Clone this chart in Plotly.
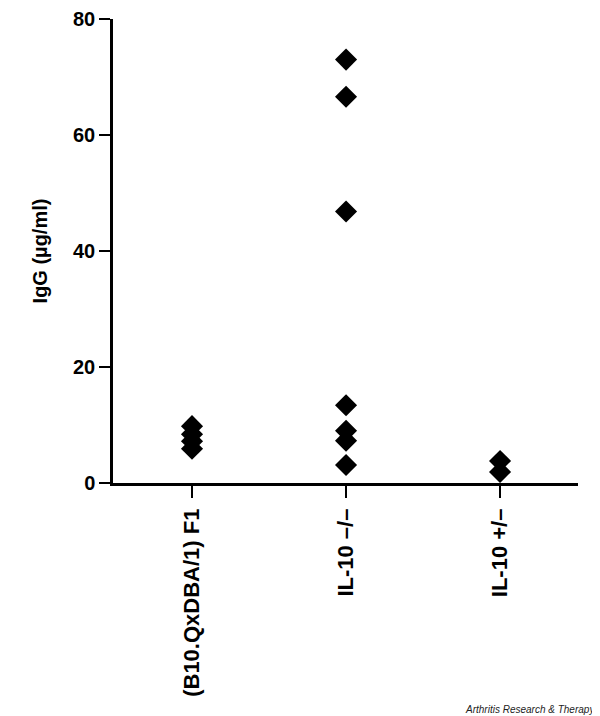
import plotly.graph_objects as go

categories = ["(B10.QxDBA/1) F1", "IL-10 \u2013/\u2013", "IL-10 +/\u2013"]
group_f1 = [9.8, 8.4, 7.2, 5.9]
group_ko = [73.0, 66.6, 46.8, 13.4, 9.0, 7.3, 3.1]
group_het = [3.8, 1.9]
y_ticks = [0, 20, 40, 60, 80]

groups = [group_f1, group_ko, group_het]

fig = go.Figure()
for i, vals in enumerate(groups):
    fig.add_trace(go.Scatter(
        x=[i] * len(vals), y=vals, mode="markers",
        marker=dict(symbol="diamond", size=17, color="black"),
        showlegend=False,
    ))

font_family = "Liberation Sans, Arial, Helvetica, sans-serif"
fig.update_layout(
    width=592, height=708,
    margin=dict(l=105, r=22, t=11, b=233),
    plot_bgcolor="white", paper_bgcolor="white",
    font=dict(family=font_family, color="black"),
    xaxis=dict(
        range=[-0.513, 2.506],
        tickmode="array", tickvals=[0, 1, 2], ticktext=categories,
        tickangle=-90, ticks="outside", ticklen=12, tickwidth=2, tickcolor="black",
        ticklabelstandoff=2,
        showline=True, linecolor="black", linewidth=2.5,
        showgrid=False, zeroline=False, automargin=False,
        tickfont=dict(size=22, family=font_family, weight="bold"),
    ),
    yaxis=dict(
        range=[0, 80],
        tickmode="array", tickvals=y_ticks,
        ticks="outside", ticklen=11, tickwidth=2, tickcolor="black",
        showline=True, linecolor="black", linewidth=2.5,
        showgrid=False, zeroline=False, automargin=False,
        tickfont=dict(size=20, family=font_family, weight="bold"),
        title=dict(text="IgG (\u00b5g/ml)", font=dict(size=20, family=font_family, weight="bold"), standoff=21),
    ),
    annotations=[dict(
        text="<i>Arthritis Research &amp; Therapy</i>",
        xref="paper", yref="paper", x=1.041, y=-0.489, xanchor="right", yanchor="middle",
        showarrow=False, font=dict(size=10, family=font_family, color="#222"),
    )],
)

fig.write_html("out.html")
